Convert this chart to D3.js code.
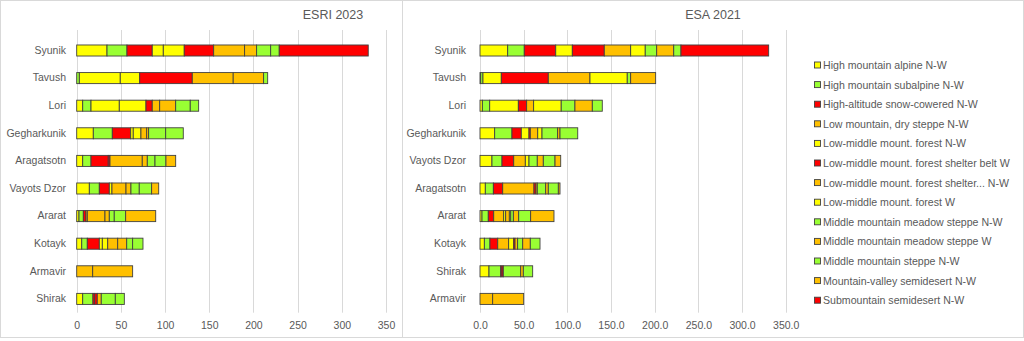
<!DOCTYPE html>
<html>
<head>
<meta charset="utf-8">
<script src="https://cdn.jsdelivr.net/npm/d3@7"></script>
<style>
html,body{margin:0;padding:0;background:#fff;}
text{font-family:"Liberation Sans",Arial,sans-serif;fill:#595959;}
</style>
</head>
<body>
<svg id="chart" width="1024" height="341"></svg>
<script>
// ---------- DATA ----------
const seriesNames = [
  "High mountain alpine N-W",
  "High mountain subalpine N-W",
  "High-altitude snow-cowered N-W",
  "Low mountain, dry steppe N-W",
  "Low-middle mount. forest N-W",
  "Low-middle mount. forest shelter belt W",
  "Low-middle mount. forest shelter... N-W",
  "Low-middle mount. forest W",
  "Middle mountain meadow steppe N-W",
  "Middle mountain meadow steppe W",
  "Middle mountain steppe N-W",
  "Mountain-valley semidesert N-W",
  "Submountain semidesert N-W"
];
const seriesColors = ["#FFFF00","#99FF33","#FF0000","#FFC000","#FFFF00","#FF0000","#FFC000","#FFFF00","#99FF33","#FFC000","#99FF33","#FFC000","#FF0000"];

const esriTitle = "ESRI 2023";
const esriRegions = ["Syunik","Tavush","Lori","Gegharkunik","Aragatsotn","Vayots Dzor","Ararat","Kotayk","Armavir","Shirak"];
// values per region, in legend (series) order
const esriValues = [
  [34.3,22.6,28.6,0,12.5,33.3,35.0,23.7,15.9,13.6,9.7,0,100.7],
  [0,3.0,0,0,46.3,59.5,46.3,22.0,4.6,34.4,0,0,0],
  [6.8,9.4,0,0,32.0,7.1,8.4,30.2,16.5,18.1,9.5,0,0],
  [18.8,21.5,20.8,0,2.9,0,6.5,8.7,19.3,2.2,19.9,0,0],
  [6.8,9.4,19.5,0,0,2.0,36.5,0,8.7,5.7,12.4,11.0,0],
  [14.3,11.3,11.3,0,3.0,0,15.9,0,9.4,5.6,14.0,8.0,0],
  [2.6,4.9,3.0,1.5,0,0,20.0,0,5.6,4.9,12.9,34.0,0],
  [5.7,6.3,13.6,0,3.4,0,11.3,6.1,6.7,10.2,11.7,0,0],
  [0,0,0,18.1,0,0,0,0,0,0,0,45.2,0],
  [6.8,11.6,2.0,0,0,2.9,4.5,0,15.9,0,10.2,0,0]
];
// stacking order of series (indices into seriesNames)
const esriStackOrder = [0,1,2,3,4,7,5,6,9,8,10,11,12];

const esaTitle = "ESA 2021";
const esaRegions = ["Syunik","Tavush","Lori","Gegharkunik","Vayots Dzor","Aragatsotn","Ararat","Kotayk","Shirak","Armavir"];
const esaValues = [
  [31.7,19.0,36.0,0,19.0,36.6,30.2,16.7,13.1,19.5,8.3,0,100.4],
  [0.8,2.6,0,0,21.0,53.8,47.7,42.7,3.9,28.6,0,0,0],
  [2.7,8.4,0,0,32.8,9.5,8.0,31.6,15.7,19.9,11.4,0,0],
  [16.8,19.8,10.7,0,8.8,1.5,8.5,4.9,17.9,2.7,20.3,0,0],
  [13.7,11.5,13.4,0,0,0,13.3,4.2,9.5,6.9,13.4,6.5,0],
  [6.1,9.2,10.7,35.8,0,2.3,1.5,0,9.6,3.0,11.5,1.9,0],
  [2.3,7.2,6.2,11.4,2.3,0,4.2,1.6,3.0,6.1,13.7,26.7,0],
  [5.0,6.4,8.9,12.5,5.8,1.5,3.0,0,5.8,8.7,11.1,0,0],
  [10.3,13.4,1.5,0,0,1.5,0,0,19.9,3.0,10.7,0,0],
  [0,0,0,14.5,0,0,0,0,0,0,0,35.5,0]
];
const esaStackOrder = [0,1,2,3,4,5,6,7,8,9,10,11,12];

const xTicks = [0,50,100,150,200,250,300,350];

// ---------- DRAW ----------
const svg = d3.select("#chart");
svg.append("rect").attr("width",1024).attr("height",341).attr("fill","#fff");

// panel borders
svg.append("rect").attr("x",0.5).attr("y",0.5).attr("width",402).attr("height",337)
  .attr("fill","none").attr("stroke","#d9d9d9");
svg.append("rect").attr("x",402.5).attr("y",0.5).attr("width",621).attr("height",337)
  .attr("fill","none").attr("stroke","#d9d9d9");

function panel(cfg){
  const g = svg.append("g");
  const x = d3.scaleLinear().domain([0,350]).range([cfg.x0, cfg.x1]);
  const y = d3.scaleBand().domain(cfg.regions).range([36.7,312.7]).paddingInner(0.6).paddingOuter(0.3);

  // gridlines
  g.append("g").selectAll("line").data(xTicks).join("line")
    .attr("x1",d=>Math.round(x(d))+0.5).attr("x2",d=>Math.round(x(d))+0.5)
    .attr("y1",30).attr("y2",312.7)
    .attr("stroke","#d9d9d9").attr("stroke-width",1);

  // tick labels via axis
  const ax = g.append("g").attr("transform","translate(0,316)")
    .call(d3.axisBottom(x).tickValues(xTicks).tickSize(0).tickPadding(6).tickFormat(cfg.fmt));
  ax.select(".domain").remove();
  ax.selectAll("text").style("font-size","10.5px").style("font-family","'Liberation Sans',Arial,sans-serif").attr("fill","#595959");

  // category labels
  const cy = g.append("g").attr("transform",`translate(${cfg.labelX},0)`)
    .call(d3.axisLeft(y).tickSize(0).tickPadding(0));
  cy.select(".domain").remove();
  cy.selectAll("text").style("font-size","10.5px").style("font-family","'Liberation Sans',Arial,sans-serif").attr("fill","#595959");

  // stacked bars
  const rows = cfg.regions.map((r,i)=>{
    const o = {region:r};
    seriesNames.forEach((s,j)=>{ o[j]=cfg.values[i][j]; });
    return o;
  });
  const stack = d3.stack().keys(cfg.order);
  const layers = stack(rows);
  g.append("g").selectAll("g").data(layers).join("g")
    .attr("fill",d=>seriesColors[d.key])
    .selectAll("rect").data(d=>d.filter(p=>p[1]-p[0]>0)).join("rect")
      .attr("x",d=>x(d[0])).attr("width",d=>x(d[1])-x(d[0]))
      .attr("y",d=>y(d.data.region)).attr("height",y.bandwidth())
      .attr("stroke","#404040").attr("stroke-width",0.9);

  // title
  g.append("text").attr("x",cfg.titleX).attr("y",19).attr("text-anchor","middle")
    .style("font-size","12.5px").text(cfg.title);
}

panel({regions:esriRegions, values:esriValues, order:esriStackOrder, x0:76.7, x1:386,
  labelX:66, title:esriTitle, titleX:333, fmt:d3.format("d")});
panel({regions:esaRegions, values:esaValues, order:esaStackOrder, x0:480, x1:785.7,
  labelX:466, title:esaTitle, titleX:713, fmt:d3.format(".1f")});

// legend
const lg = svg.append("g");
const items = lg.selectAll("g").data(seriesNames).join("g")
  .attr("transform",(d,i)=>`translate(814,${65 + i*19.6})`);
items.append("rect").attr("x",0.5).attr("y",-3).attr("width",6).attr("height",6)
  .attr("fill",(d,i)=>seriesColors[i]).attr("stroke","#404040").attr("stroke-width",0.9);
items.append("text").attr("x",9).attr("y",3.9).style("font-size","10.6px").text(d=>d);
</script>
</body>
</html>
